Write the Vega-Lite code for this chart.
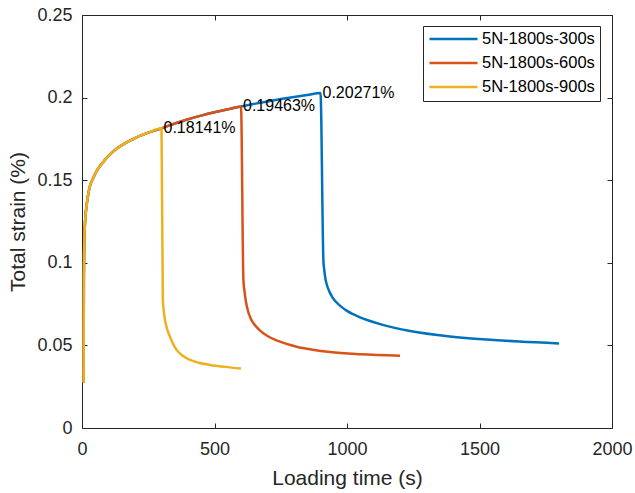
{
  "$schema": "https://vega.github.io/schema/vega-lite/v6.json",
  "width": 530,
  "height": 413,
  "autosize": {"type": "none"},
  "padding": {"left": 82, "top": 15, "right": 23, "bottom": 65},
  "config": {
    "font": "Liberation Sans",
    "view": {"stroke": null},
    "axis": {
      "grid": false,
      "labelFlush": false,
      "domainColor": "#262626",
      "domainWidth": 1,
      "tickColor": "#262626",
      "tickWidth": 1,
      "tickSize": -5,
      "labelColor": "#262626",
      "labelFontSize": 18,
      "titleColor": "#262626",
      "titleFontSize": 21,
      "titleFontWeight": "normal"
    }
  },
  "datasets": {
    "curves": [
      {"series": "5N-1800s-300s", "t": 6, "s": 0.0275},
      {"series": "5N-1800s-300s", "t": 7, "s": 0.09},
      {"series": "5N-1800s-300s", "t": 9, "s": 0.115},
      {"series": "5N-1800s-300s", "t": 12, "s": 0.126},
      {"series": "5N-1800s-300s", "t": 16, "s": 0.133},
      {"series": "5N-1800s-300s", "t": 22, "s": 0.140},
      {"series": "5N-1800s-300s", "t": 30, "s": 0.1465},
      {"series": "5N-1800s-300s", "t": 40, "s": 0.1505},
      {"series": "5N-1800s-300s", "t": 55, "s": 0.1555},
      {"series": "5N-1800s-300s", "t": 75, "s": 0.1600},
      {"series": "5N-1800s-300s", "t": 100, "s": 0.1647},
      {"series": "5N-1800s-300s", "t": 130, "s": 0.1690},
      {"series": "5N-1800s-300s", "t": 165, "s": 0.1726},
      {"series": "5N-1800s-300s", "t": 200, "s": 0.1755},
      {"series": "5N-1800s-300s", "t": 250, "s": 0.1788},
      {"series": "5N-1800s-300s", "t": 300, "s": 0.18141},
      {"series": "5N-1800s-300s", "t": 350, "s": 0.1843},
      {"series": "5N-1800s-300s", "t": 400, "s": 0.1869},
      {"series": "5N-1800s-300s", "t": 450, "s": 0.1891},
      {"series": "5N-1800s-300s", "t": 500, "s": 0.1911},
      {"series": "5N-1800s-300s", "t": 550, "s": 0.1929},
      {"series": "5N-1800s-300s", "t": 600, "s": 0.19463},
      {"series": "5N-1800s-300s", "t": 650, "s": 0.1962},
      {"series": "5N-1800s-300s", "t": 700, "s": 0.1977},
      {"series": "5N-1800s-300s", "t": 750, "s": 0.1991},
      {"series": "5N-1800s-300s", "t": 800, "s": 0.2004},
      {"series": "5N-1800s-300s", "t": 850, "s": 0.2016},
      {"series": "5N-1800s-300s", "t": 900, "s": 0.20271},
      {"series": "5N-1800s-300s", "t": 911, "s": 0.1012},
      {"series": "5N-1800s-300s", "t": 914, "s": 0.0958},
      {"series": "5N-1800s-300s", "t": 918, "s": 0.0909},
      {"series": "5N-1800s-300s", "t": 924.5, "s": 0.0864},
      {"series": "5N-1800s-300s", "t": 934, "s": 0.0824},
      {"series": "5N-1800s-300s", "t": 945, "s": 0.0791},
      {"series": "5N-1800s-300s", "t": 960, "s": 0.0761},
      {"series": "5N-1800s-300s", "t": 979, "s": 0.0733},
      {"series": "5N-1800s-300s", "t": 1000, "s": 0.0709},
      {"series": "5N-1800s-300s", "t": 1023, "s": 0.0689},
      {"series": "5N-1800s-300s", "t": 1049, "s": 0.0670},
      {"series": "5N-1800s-300s", "t": 1087, "s": 0.0648},
      {"series": "5N-1800s-300s", "t": 1125, "s": 0.0629},
      {"series": "5N-1800s-300s", "t": 1238, "s": 0.0587},
      {"series": "5N-1800s-300s", "t": 1389, "s": 0.0554},
      {"series": "5N-1800s-300s", "t": 1553, "s": 0.0533},
      {"series": "5N-1800s-300s", "t": 1650, "s": 0.0523},
      {"series": "5N-1800s-300s", "t": 1800, "s": 0.0512},

      {"series": "5N-1800s-600s", "t": 6, "s": 0.0275},
      {"series": "5N-1800s-600s", "t": 7, "s": 0.09},
      {"series": "5N-1800s-600s", "t": 9, "s": 0.115},
      {"series": "5N-1800s-600s", "t": 12, "s": 0.126},
      {"series": "5N-1800s-600s", "t": 16, "s": 0.133},
      {"series": "5N-1800s-600s", "t": 22, "s": 0.140},
      {"series": "5N-1800s-600s", "t": 30, "s": 0.1465},
      {"series": "5N-1800s-600s", "t": 40, "s": 0.1505},
      {"series": "5N-1800s-600s", "t": 55, "s": 0.1555},
      {"series": "5N-1800s-600s", "t": 75, "s": 0.1600},
      {"series": "5N-1800s-600s", "t": 100, "s": 0.1647},
      {"series": "5N-1800s-600s", "t": 130, "s": 0.1690},
      {"series": "5N-1800s-600s", "t": 165, "s": 0.1726},
      {"series": "5N-1800s-600s", "t": 200, "s": 0.1755},
      {"series": "5N-1800s-600s", "t": 250, "s": 0.1788},
      {"series": "5N-1800s-600s", "t": 300, "s": 0.18141},
      {"series": "5N-1800s-600s", "t": 350, "s": 0.1843},
      {"series": "5N-1800s-600s", "t": 400, "s": 0.1869},
      {"series": "5N-1800s-600s", "t": 450, "s": 0.1891},
      {"series": "5N-1800s-600s", "t": 500, "s": 0.1911},
      {"series": "5N-1800s-600s", "t": 550, "s": 0.1929},
      {"series": "5N-1800s-600s", "t": 600, "s": 0.19463},
      {"series": "5N-1800s-600s", "t": 609, "s": 0.090},
      {"series": "5N-1800s-600s", "t": 613, "s": 0.0830},
      {"series": "5N-1800s-600s", "t": 618, "s": 0.0770},
      {"series": "5N-1800s-600s", "t": 626, "s": 0.0710},
      {"series": "5N-1800s-600s", "t": 636, "s": 0.0665},
      {"series": "5N-1800s-600s", "t": 650, "s": 0.0628},
      {"series": "5N-1800s-600s", "t": 670, "s": 0.0593},
      {"series": "5N-1800s-600s", "t": 700, "s": 0.0557},
      {"series": "5N-1800s-600s", "t": 740, "s": 0.0527},
      {"series": "5N-1800s-600s", "t": 810, "s": 0.0492},
      {"series": "5N-1800s-600s", "t": 870, "s": 0.0474},
      {"series": "5N-1800s-600s", "t": 936, "s": 0.0460},
      {"series": "5N-1800s-600s", "t": 1050, "s": 0.0447},
      {"series": "5N-1800s-600s", "t": 1200, "s": 0.0438},

      {"series": "5N-1800s-900s", "t": 6, "s": 0.0275},
      {"series": "5N-1800s-900s", "t": 7, "s": 0.09},
      {"series": "5N-1800s-900s", "t": 9, "s": 0.115},
      {"series": "5N-1800s-900s", "t": 12, "s": 0.126},
      {"series": "5N-1800s-900s", "t": 16, "s": 0.133},
      {"series": "5N-1800s-900s", "t": 22, "s": 0.140},
      {"series": "5N-1800s-900s", "t": 30, "s": 0.1465},
      {"series": "5N-1800s-900s", "t": 40, "s": 0.1505},
      {"series": "5N-1800s-900s", "t": 55, "s": 0.1555},
      {"series": "5N-1800s-900s", "t": 75, "s": 0.1600},
      {"series": "5N-1800s-900s", "t": 100, "s": 0.1647},
      {"series": "5N-1800s-900s", "t": 130, "s": 0.1690},
      {"series": "5N-1800s-900s", "t": 165, "s": 0.1726},
      {"series": "5N-1800s-900s", "t": 200, "s": 0.1755},
      {"series": "5N-1800s-900s", "t": 250, "s": 0.1788},
      {"series": "5N-1800s-900s", "t": 300, "s": 0.18141},
      {"series": "5N-1800s-900s", "t": 305, "s": 0.078},
      {"series": "5N-1800s-900s", "t": 308, "s": 0.0715},
      {"series": "5N-1800s-900s", "t": 313, "s": 0.0655},
      {"series": "5N-1800s-900s", "t": 320, "s": 0.0605},
      {"series": "5N-1800s-900s", "t": 332, "s": 0.0553},
      {"series": "5N-1800s-900s", "t": 345, "s": 0.0505},
      {"series": "5N-1800s-900s", "t": 357, "s": 0.0473},
      {"series": "5N-1800s-900s", "t": 380, "s": 0.0438},
      {"series": "5N-1800s-900s", "t": 408, "s": 0.0412},
      {"series": "5N-1800s-900s", "t": 440, "s": 0.0395},
      {"series": "5N-1800s-900s", "t": 483, "s": 0.0382},
      {"series": "5N-1800s-900s", "t": 540, "s": 0.0370},
      {"series": "5N-1800s-900s", "t": 600, "s": 0.0360}
    ],
    "peaks": [
      {"t": 300, "s": 0.18141, "label": "0.18141%"},
      {"t": 600, "s": 0.19463, "label": "0.19463%"},
      {"t": 900, "s": 0.20271, "label": "0.20271%"}
    ]
  },
  "layer": [
    {
      "data": {"name": "curves"},
      "mark": {"type": "line", "strokeWidth": 2.5, "interpolate": "monotone"},
      "encoding": {
        "x": {
          "field": "t", "type": "quantitative",
          "scale": {"domain": [0, 2000], "nice": false, "zero": false},
          "axis": {"orient": "bottom", "title": "Loading time (s)", "values": [0, 500, 1000, 1500, 2000], "format": "d", "labelPadding": 17, "titlePadding": 9}
        },
        "y": {
          "field": "s", "type": "quantitative",
          "scale": {"domain": [0, 0.25], "nice": false, "zero": false},
          "axis": {"orient": "left", "title": "Total strain (%)", "values": [0, 0.05, 0.1, 0.15, 0.2, 0.25], "format": "~g", "labelPadding": 15, "titlePadding": 8}
        },
        "color": {
          "field": "series", "type": "nominal",
          "scale": {"domain": ["5N-1800s-300s", "5N-1800s-600s", "5N-1800s-900s"], "range": ["#0072BD", "#D95319", "#EDB120"]},
          "legend": {
            "title": null,
            "orient": "none",
            "legendX": 341,
            "legendY": 11,
            "padding": 5,
            "strokeColor": "#262626",
            "fillColor": "white",
            "symbolType": "stroke",
            "symbolSize": 2304,
            "symbolStrokeWidth": 2.5,
            "labelFontSize": 16.5,
            "labelColor": "black",
            "labelOffset": 3,
            "rowPadding": 7,
            "clipHeight": 16,
            "labelLimit": 300
          }
        }
      }
    },
    {
      "data": {"name": "peaks"},
      "mark": {"type": "text", "align": "left", "baseline": "middle", "dx": 2, "fontSize": 16, "color": "black"},
      "encoding": {
        "x": {
          "field": "t", "type": "quantitative",
          "scale": {"domain": [0, 2000], "nice": false, "zero": false},
          "axis": {"orient": "top", "title": null, "labels": false, "values": [0, 500, 1000, 1500, 2000]}
        },
        "y": {
          "field": "s", "type": "quantitative",
          "scale": {"domain": [0, 0.25], "nice": false, "zero": false},
          "axis": {"orient": "right", "title": null, "labels": false, "values": [0, 0.05, 0.1, 0.15, 0.2, 0.25]}
        },
        "text": {"field": "label"}
      }
    }
  ],
  "resolve": {"scale": {"x": "independent", "y": "independent"}}
}
